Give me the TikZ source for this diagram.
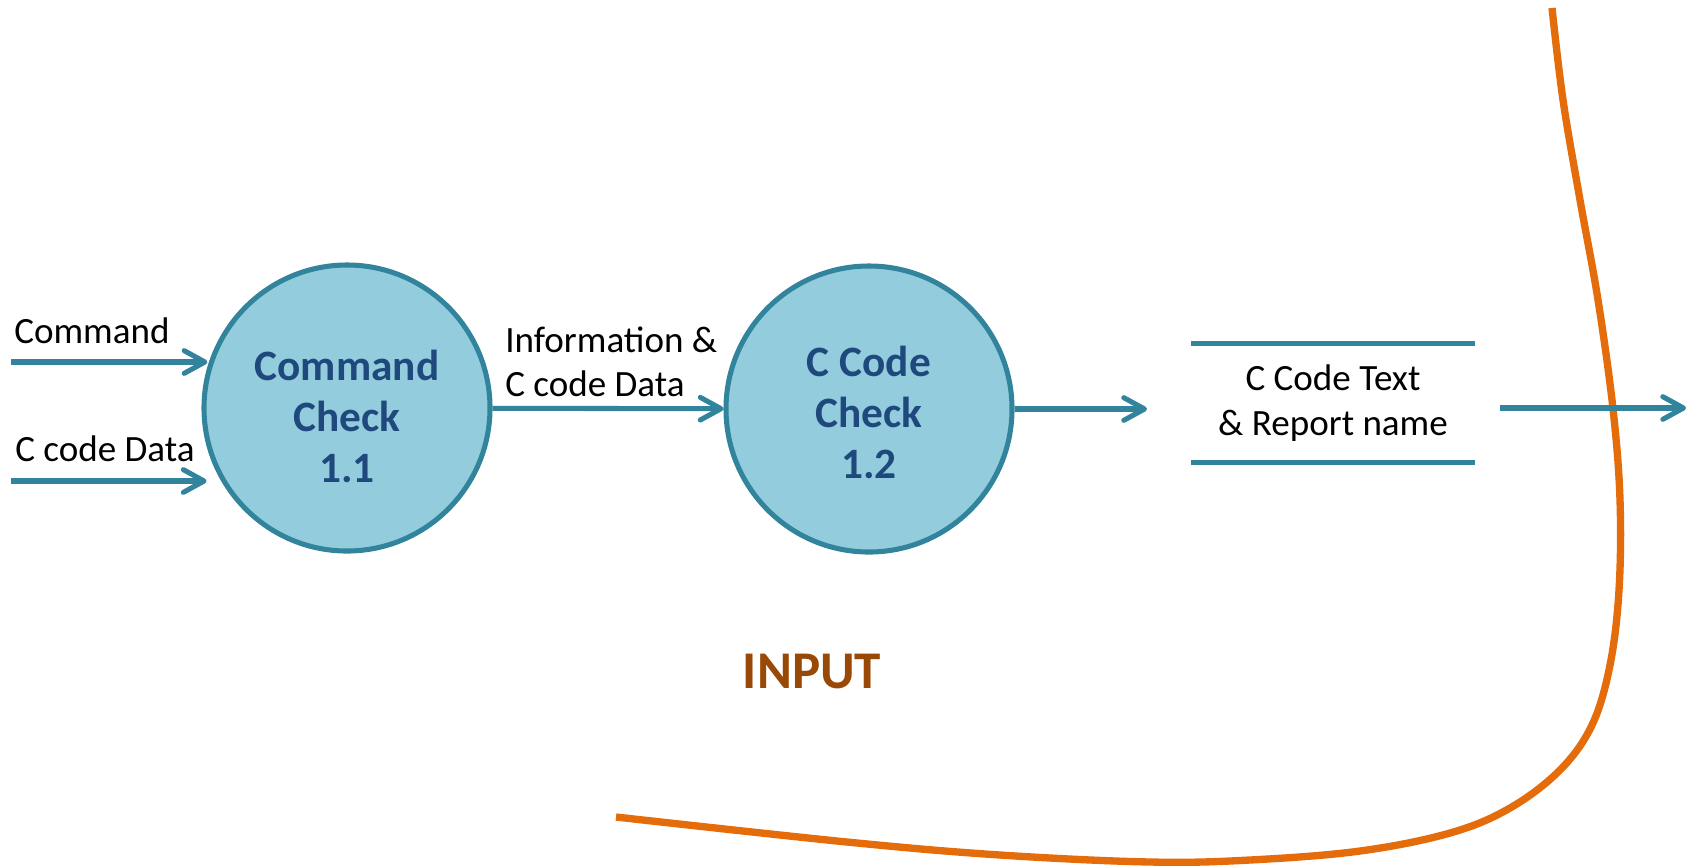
\documentclass[tikz,border=0pt]{standalone}
\usepackage{fontspec}
\setmainfont{Carlito}
\usetikzlibrary{arrows.meta}
\definecolor{flowteal}{HTML}{31849B}
\definecolor{procfill}{HTML}{93CDDD}
\definecolor{proctext}{HTML}{1F497D}
\definecolor{boundary}{HTML}{E46C0A}
\definecolor{captioncol}{HTML}{984807}
% strut that pushes a centred multi-line process label down a little
\newcommand{\toplift}[1]{\rule{0pt}{#1}}
\begin{document}
\begin{tikzpicture}[x=0.75pt,y=-0.75pt,
  process/.style={circle, draw=flowteal, line width=3.8pt, fill=procfill,
    minimum size=214.5pt, inner sep=0pt, align=center, text=proctext,
    font=\fontsize{32.5}{38.25}\selectfont\bfseries},
  flow/.style={draw=flowteal, line width=3.8pt,
    -{Straight Barb[length=15.5pt,width=17pt,round]}},
  flowlabel/.style={font=\fontsize{27.8}{33}\selectfont, inner sep=0pt, align=left},
  storeline/.style={draw=flowteal, line width=3.8pt},
  boundaryline/.style={draw=boundary, line width=5.5pt}]
\useasboundingbox (0,0) rectangle (1690,865);

% system boundary
\draw[boundaryline] plot[smooth, tension=0.6] coordinates {
  (1552,8) (1563,100) (1580,200) (1598,300) (1613,409) (1620,500)
  (1619,590) (1610,665) (1592,725) (1560,770) (1510,808) (1450,833)
  (1360,851) (1250,860) (1150,862) (1000,855) (847,842) (616,817)};

% processes
\node[process] (c1) at (347,408) {\toplift{35pt}Command\\Check\\1.1};
\node[process] (c2) at (869,409) {\toplift{28pt}C Code\\Check\\1.2};

% data store
\node[font=\fontsize{27.8}{33.75}\selectfont, align=center, inner sep=0pt,
  minimum width=213pt, minimum height=88.5pt] (store) at (1333,403)
  {C Code Text\\\& Report name};
\draw[storeline] (store.north west) -- (store.north east);
\draw[storeline] (store.south west) -- (store.south east);

% flows
\coordinate (cmdIn) at (11,362);
\coordinate (dataIn) at (11,481);
\coordinate (storeIn) at (1147,409);
\coordinate (storeOut) at (1500,408);
\coordinate (sink) at (1686,408);

\draw[flow, shorten >=1.5pt] (cmdIn) -- (cmdIn -| c1.161.5);
\draw[flow, shorten >=1.5pt] (dataIn) -- (dataIn -| c1.198.5);
\draw[flow] (c1) -- (c2);
\draw[flow] (c2) -- (storeIn);
\draw[flow] (storeOut) -- (sink);

% flow labels
\node[flowlabel, anchor=base west] (lblCmd) at (14,343) {Command};
\node[flowlabel, anchor=base west] (lblData) at (15,461) {C code Data};
\node[flowlabel, anchor=base west] (lblInfo) at (505,396) {Information \&\\C code Data};

% caption
\node[anchor=base, inner sep=0pt, text=captioncol,
  font=\fontsize{39.75}{45}\selectfont\bfseries] (caption) at (812,688) {INPUT};
\end{tikzpicture}
\end{document}
